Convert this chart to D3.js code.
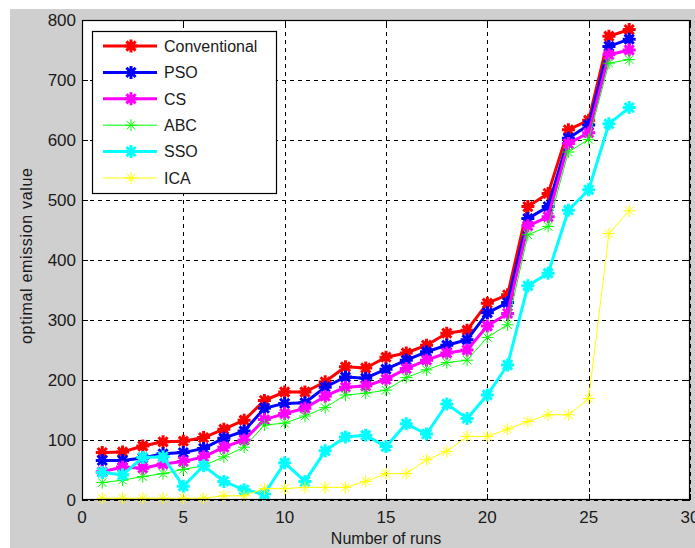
<!DOCTYPE html>
<html>
<head>
<meta charset="utf-8">
<script src="https://cdn.jsdelivr.net/npm/d3@7"></script>
<style>
  html, body { margin: 0; padding: 0; background: #fff; }
  svg { display: block; font-family: "Liberation Sans", Arial, sans-serif; }
</style>
</head>
<body>
<div id="chart"></div>
<script>
// Number of runs (x values)
var runs = [1, 2, 3, 4, 5, 6, 7, 8, 9, 10, 11, 12, 13, 14, 15, 16, 17, 18, 19, 20, 21, 22, 23, 24, 25, 26, 27];

// Optimal emission values per method
var conventional = [79, 80, 90, 97, 98, 104, 118, 133, 166, 180, 180, 197, 222, 220, 238, 245, 258, 278, 283, 328, 342, 489, 511, 617, 633, 773, 784];
var pso = [66, 66, 70, 77, 79, 86, 103, 115, 153, 161, 162, 188, 205, 203, 218, 233, 247, 258, 267, 312, 329, 469, 489, 603, 625, 756, 768];
var cs = [47, 55, 53, 60, 64, 72, 88, 100, 134, 144, 153, 173, 188, 190, 201, 219, 233, 245, 250, 290, 311, 457, 472, 594, 612, 742, 750];
var abc = [29, 33, 39, 44, 51, 57, 72, 88, 125, 128, 140, 154, 175, 178, 183, 204, 217, 229, 233, 271, 292, 442, 456, 580, 601, 728, 734];
var sso = [46, 42, 71, 72, 23, 57, 31, 17, 10, 62, 31, 82, 105, 108, 89, 127, 110, 160, 136, 175, 225, 357, 378, 483, 517, 627, 654];
var ica = [3, 3, 3, 3, 3, 3, 7, 7, 19, 19, 21, 21, 21, 31, 44, 44, 67, 81, 106, 106, 118, 131, 142, 142, 169, 444, 482];

var seriesNames = ['Conventional', 'PSO', 'CS', 'ABC', 'SSO', 'ICA'];
var seriesValues = [conventional, pso, cs, abc, sso, ica];

// Tick values
var xTicks = [0, 5, 10, 15, 20, 25, 30];
var yTicks = [0, 100, 200, 300, 400, 500, 600, 700, 800];

var colors = ['#ff0000', '#0000ff', '#ff00ff', '#00ff00', '#00ffff', '#ffff00'];
var thick = [true, true, true, false, true, false];

var W = 695, H = 548;
var plot = { left: 82, right: 690, top: 20, bottom: 500 };

var svg = d3.select('#chart').append('svg')
    .attr('width', W)
    .attr('height', H);

// figure background
svg.append('rect')
    .attr('x', 10).attr('y', 9)
    .attr('width', W - 10).attr('height', H - 9)
    .attr('fill', '#cfcfcf');

svg.append('rect')
    .attr('x', plot.left).attr('y', plot.top)
    .attr('width', plot.right - plot.left).attr('height', plot.bottom - plot.top)
    .attr('fill', '#ffffff');

var x = d3.scaleLinear().domain([0, 30]).range([plot.left, plot.right]);
var y = d3.scaleLinear().domain([0, 800]).range([plot.bottom, plot.top]);

// grid
var gridX = svg.append('g')
    .attr('transform', 'translate(0,' + plot.bottom + ')')
    .call(d3.axisBottom(x).tickValues(xTicks).tickSize(-(plot.bottom - plot.top)).tickFormat(''));
var gridY = svg.append('g')
    .attr('transform', 'translate(' + plot.left + ',0)')
    .call(d3.axisLeft(y).tickValues(yTicks).tickSize(-(plot.right - plot.left)).tickFormat(''));
[gridX, gridY].forEach(function (g) {
    g.select('.domain').remove();
    g.selectAll('line')
        .attr('stroke', '#000')
        .attr('stroke-width', 1)
        .attr('stroke-dasharray', '4,4')
        .attr('shape-rendering', 'crispEdges');
});

// inward ticks on all four sides
var tickLen = 6;
var axB = svg.append('g').attr('transform', 'translate(0,' + plot.bottom + ')')
    .call(d3.axisBottom(x).tickValues(xTicks).tickSize(-tickLen).tickFormat(''));
var axT = svg.append('g').attr('transform', 'translate(0,' + plot.top + ')')
    .call(d3.axisTop(x).tickValues(xTicks).tickSize(-tickLen).tickFormat(''));
var axL = svg.append('g').attr('transform', 'translate(' + plot.left + ',0)')
    .call(d3.axisLeft(y).tickValues(yTicks).tickSize(-tickLen).tickFormat(''));
var axR = svg.append('g').attr('transform', 'translate(' + plot.right + ',0)')
    .call(d3.axisRight(y).tickValues(yTicks).tickSize(-tickLen).tickFormat(''));
[axB, axT, axL, axR].forEach(function (g) {
    g.select('.domain').remove();
    g.selectAll('line').attr('stroke', '#000').attr('shape-rendering', 'crispEdges');
});

// tick labels
svg.append('g').selectAll('text')
    .data(xTicks)
    .join('text')
    .attr('x', function (d) { return x(d); })
    .attr('y', 523)
    .attr('text-anchor', 'middle')
    .attr('font-size', 17)
    .attr('fill', '#1a1a1a')
    .text(function (d) { return d; });

svg.append('g').selectAll('text')
    .data(yTicks)
    .join('text')
    .attr('x', 76)
    .attr('y', function (d) { return y(d); })
    .attr('dy', '0.36em')
    .attr('text-anchor', 'end')
    .attr('font-size', 17)
    .attr('fill', '#1a1a1a')
    .text(function (d) { return d; });

// axis titles
svg.append('text')
    .attr('x', (plot.left + plot.right) / 2)
    .attr('y', 544)
    .attr('text-anchor', 'middle')
    .attr('font-size', 16)
    .attr('fill', '#1a1a1a')
    .text('Number of runs');

svg.append('text')
    .attr('transform', 'translate(32,256) rotate(-90)')
    .attr('text-anchor', 'middle')
    .attr('font-size', 16)
    .attr('textLength', 176)
    .attr('lengthAdjust', 'spacing')
    .attr('fill', '#1a1a1a')
    .text('optimal emission value');

// series
function starPath(r) {
    var d = 0.7071 * r;
    return 'M' + (-r) + ',0L' + r + ',0M0,' + (-r) + 'L0,' + r +
        'M' + (-d) + ',' + (-d) + 'L' + d + ',' + d +
        'M' + (-d) + ',' + d + 'L' + d + ',' + (-d);
}

var line = d3.line()
    .x(function (d) { return x(d[0]); })
    .y(function (d) { return y(d[1]); });

var plotArea = svg.append('g');
seriesValues.forEach(function (vals, i) {
    var pts = runs.map(function (r, j) { return [r, vals[j]]; });
    var sw = thick[i] ? 3 : 1;
    var g = plotArea.append('g');
    g.append('path')
        .datum(pts)
        .attr('d', line)
        .attr('fill', 'none')
        .attr('stroke', colors[i])
        .attr('stroke-width', sw)
        .attr('stroke-linejoin', 'round');
    g.selectAll('path.mk')
        .data(pts)
        .join('path')
        .attr('class', 'mk')
        .attr('transform', function (d) { return 'translate(' + x(d[0]) + ',' + y(d[1]) + ')'; })
        .attr('d', starPath(thick[i] ? 6.5 : 6))
        .attr('fill', 'none')
        .attr('stroke', colors[i])
        .attr('stroke-width', sw);
});

// axes box
svg.append('rect')
    .attr('x', plot.left + 0.5).attr('y', plot.top + 0.5)
    .attr('width', plot.right - plot.left - 1).attr('height', plot.bottom - plot.top - 1)
    .attr('fill', 'none')
    .attr('stroke', '#000')
    .attr('stroke-width', 1.2);

// legend
var legend = svg.append('g');
legend.append('rect')
    .attr('x', 92.5).attr('y', 31.5)
    .attr('width', 184).attr('height', 162)
    .attr('fill', '#fff')
    .attr('stroke', '#000')
    .attr('stroke-width', 1.2);

var entry = legend.selectAll('g.entry')
    .data(seriesNames)
    .join('g')
    .attr('class', 'entry')
    .attr('transform', function (d, i) { return 'translate(0,' + (46 + i * 26.4) + ')'; });

entry.append('line')
    .attr('x1', 103).attr('x2', 157)
    .attr('stroke', function (d, i) { return colors[i]; })
    .attr('stroke-width', function (d, i) { return thick[i] ? 3 : 1; });
entry.append('path')
    .attr('transform', 'translate(131,0)')
    .attr('d', function (d, i) { return starPath(thick[i] ? 6.5 : 6); })
    .attr('fill', 'none')
    .attr('stroke', function (d, i) { return colors[i]; })
    .attr('stroke-width', function (d, i) { return thick[i] ? 3 : 1; });
entry.append('text')
    .attr('x', 164)
    .attr('dy', '0.36em')
    .attr('font-size', 16)
    .attr('fill', '#1a1a1a')
    .text(function (d) { return d; });
</script>
</body>
</html>
